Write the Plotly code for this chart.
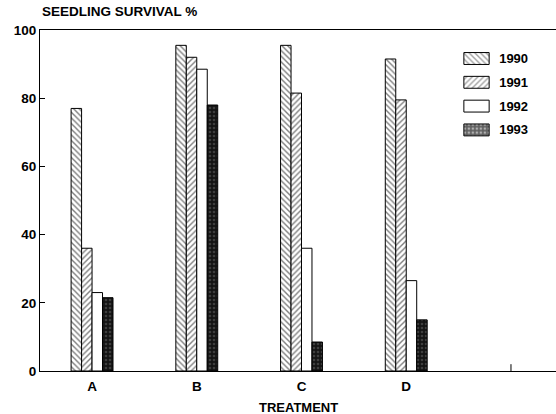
import plotly.graph_objects as go

treatments = ["A", "B", "C", "D"]
years = ["1990", "1991", "1992", "1993"]
s1990 = [77, 95.5, 95.5, 91.5]
s1991 = [36, 92, 81.5, 79.5]
s1992 = [23, 88.5, 36, 26.5]
s1993 = [21.5, 78, 8.5, 15]
series = [s1990, s1991, s1992, s1993]

ytick_vals = [0, 20, 40, 60, 80, 100]

shapes = ["\\", "/", "", "."]
fgs = ["black", "black", "black", "#6a6a6a"]
bgs = ["white", "white", "white", "#141414"]
legend_fgs = ["black", "black", "black", "#d0d0d0"]
legend_bgs = ["white", "white", "white", "#606060"]

FONT = "Liberation Sans, Arial, sans-serif"
FS = 13.5
xpos = list(range(len(treatments)))

fig = go.Figure()
for i, (name, vals) in enumerate(zip(years, series)):
    fig.add_trace(go.Bar(
        x=xpos, y=vals, name=name, showlegend=False,
        marker=dict(color=bgs[i],
                    pattern=dict(shape=shapes[i], fgcolor=fgs[i], bgcolor=bgs[i], size=4, solidity=0.35),
                    line=dict(color="black", width=1)),
    ))

# custom legend (wide swatches) drawn as a tiny bar subplot
fig.add_trace(go.Bar(
    x=[1] * len(years), y=years, orientation="h", width=0.5,
    xaxis="x2", yaxis="y2", showlegend=False, hoverinfo="skip",
    marker=dict(color=legend_bgs,
                pattern=dict(shape=shapes, fgcolor=legend_fgs, bgcolor=legend_bgs, size=4, solidity=0.35),
                line=dict(color="black", width=1)),
))

fig.update_layout(
    width=556, height=414,
    margin=dict(l=40, r=0, t=30, b=43),
    paper_bgcolor="white", plot_bgcolor="white",
    barmode="group", bargap=0.6, bargroupgap=0,
    font=dict(family=FONT, color="black", size=FS, weight="bold"),
    showlegend=False,
    xaxis=dict(
        range=[-0.497, 4.43], tickvals=xpos, ticktext=treatments,
        showline=True, linecolor="black", linewidth=1, mirror=True,
        showgrid=False, zeroline=False, ticks="", ticklabelstandoff=3,
        tickfont=dict(size=FS, weight="bold", family=FONT),
    ),
    yaxis=dict(
        range=[0, 100], tickvals=ytick_vals,
        showline=True, linecolor="black", linewidth=1, mirror=False,
        showgrid=False, zeroline=False, ticks="inside", ticklen=5, tickcolor="black",
        tickfont=dict(size=FS, weight="bold", family=FONT),
    ),
    xaxis2=dict(domain=[0.8195, 0.8724], range=[-0.04, 1.04], anchor="y2",
                visible=False, fixedrange=True),
    yaxis2=dict(domain=[0.6721, 0.9513], anchor="x2", side="right",
                autorange="reversed", type="category", showline=False, showgrid=False,
                zeroline=False, ticks="", ticklabelstandoff=8,
                tickfont=dict(size=13, weight="bold", family=FONT)),
)
# extra tick mark on x axis after D
fig.add_shape(type="line", xref="x", yref="paper", x0=len(treatments), x1=len(treatments),
              y0=0, y1=0.02, line=dict(color="black", width=1))
fig.add_annotation(text="SEEDLING SURVIVAL %", xref="paper", yref="paper",
                   x=0.0, y=1.025, xanchor="left", yanchor="bottom", showarrow=False,
                   font=dict(size=FS, weight="bold", family=FONT))
fig.add_annotation(text="TREATMENT", xref="paper", yref="paper",
                   x=0.5, y=-0.1056, xanchor="center", yanchor="middle", showarrow=False,
                   font=dict(size=13, weight="bold", family=FONT))

fig.write_html("out.html", config={"displayModeBar": False},
               post_script="document.body.style.margin='0';")
